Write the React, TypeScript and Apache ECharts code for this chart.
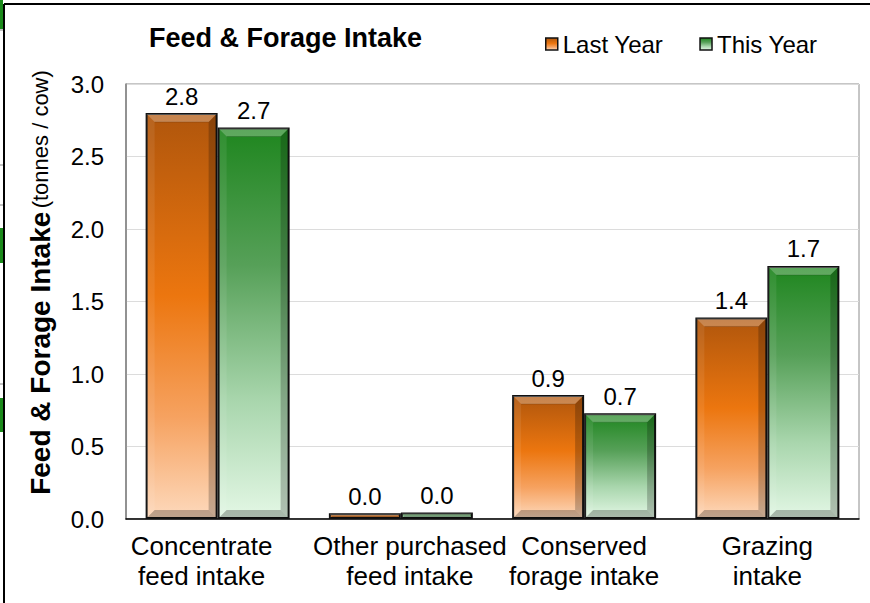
import React, { useEffect, useRef } from "react";
import * as echarts from "echarts";

const categories = ["Concentrate\nfeed intake", "Other purchased\nfeed intake", "Conserved\nforage intake", "Grazing\nintake"];
const lastYear = [2.8, 0.04, 0.855, 1.39];
const thisYear = [2.7, 0.045, 0.73, 1.745];
const yTicks = [0, 0.5, 1.0, 1.5, 2.0, 2.5, 3.0];

const FONT = "'Liberation Sans', Arial, sans-serif";
const BAR_W = 72;

const orangeGrad = () =>
  new echarts.graphic.LinearGradient(0, 0, 0, 1, [
    { offset: 0, color: "#b0560c" },
    { offset: 0.45, color: "#ec760f" },
    { offset: 0.75, color: "#f6a260" },
    { offset: 1, color: "#fdd9bc" },
  ]);
const greenGrad = () =>
  new echarts.graphic.LinearGradient(0, 0, 0, 1, [
    { offset: 0, color: "#1f861f" },
    { offset: 0.35, color: "#56a058" },
    { offset: 0.7, color: "#a9d6ad" },
    { offset: 1, color: "#e3f7e5" },
  ]);

const bevel = (offset: number) => (params: any, api: any) => {
  const top = api.coord([api.value(0), api.value(1)]);
  const base = api.coord([api.value(0), 0]);
  const x0 = top[0] + offset - BAR_W / 2 + 1;
  const x1 = top[0] + offset + BAR_W / 2 - 1;
  const y0 = top[1] + 1;
  const y1 = base[1] - 1;
  const h = y1 - y0;
  const b = Math.max(0, Math.min(8, h / 2));
  return {
    type: "group",
    children: [
      {
        type: "polygon",
        shape: { points: [[x0, y0], [x1, y0], [x1 - b, y0 + b], [x0 + b, y0 + b]] },
        style: { fill: "rgba(255,255,255,0.28)" },
      },
      {
        type: "line",
        shape: { x1: x0 + b, y1: y0 + b, x2: x1 - b, y2: y0 + b },
        style: { stroke: "rgba(0,0,0,0.15)", lineWidth: 1 },
      },
      {
        type: "polygon",
        shape: { points: [[x1, y0], [x1, y1], [x1 - b, y1 - b], [x1 - b, y0 + b]] },
        style: { fill: "rgba(0,0,0,0.22)" },
      },
      {
        type: "polygon",
        shape: { points: [[x0, y1], [x1, y1], [x1 - b, y1 - b], [x0 + b, y1 - b]] },
        style: { fill: "rgba(0,0,0,0.25)" },
      },
      {
        type: "polygon",
        shape: { points: [[x0, y0], [x0, y1], [x0 + b, y1 - b], [x0 + b, y0 + b]] },
        style: { fill: "rgba(255,255,255,0.08)" },
      },
    ],
  };
};

export default function App() {
  const ref = useRef<HTMLDivElement>(null);
  useEffect(() => {
    if (!ref.current) return;
    const chart = echarts.init(ref.current, undefined, { renderer: "svg" });
    const labelFmt = (p: any) => Number(p.value).toFixed(1);
    const valueLabel = {
      show: true,
      position: "top",
      distance: 5,
      fontFamily: FONT,
      fontSize: 24,
      color: "#000",
      formatter: labelFmt,
    };
    chart.setOption({
      animation: false,
      textStyle: { fontFamily: FONT },
      title: {
        text: "Feed & Forage Intake",
        left: 144,
        top: 19,
        textStyle: { fontFamily: FONT, fontSize: 27, fontWeight: "bold", color: "#000" },
      },
      legend: {
        left: 540,
        top: 27,
        itemWidth: 12,
        itemHeight: 12,
        itemGap: 36,
        icon: "rect",
        textStyle: { fontFamily: FONT, fontSize: 24, color: "#000" },
        data: [
          { name: "Last Year", itemStyle: { color: orangeGrad(), borderColor: "#111", borderWidth: 1.5 } },
          { name: "This Year", itemStyle: { color: greenGrad(), borderColor: "#111", borderWidth: 1.5 } },
        ],
      },
      grid: {
        left: 126,
        right: 11,
        top: 84,
        bottom: 84,
        show: true,
        borderColor: "#8c8c8c",
        borderWidth: 1,
        backgroundColor: "#fff",
      },
      xAxis: {
        type: "category",
        data: [
          { value: categories[0], textStyle: { padding: [0, 32, 0, 0] } },
          { value: categories[1], textStyle: { padding: [0, 0, 0, 18] } },
          { value: categories[2] },
          { value: categories[3] },
        ],
        axisLine: { show: true, lineStyle: { color: "#000", width: 1.5 } },
        axisTick: { show: false },
        axisLabel: {
          fontFamily: FONT,
          fontSize: 26,
          color: "#000",
          margin: 12,
          lineHeight: 30,
          interval: 0,
        },
      },
      yAxis: {
        type: "value",
        min: 0,
        max: 3,
        interval: 0.5,
        name: "{b|Feed & Forage Intake} {n|(tonnes / cow)}",
        nameLocation: "middle",
        nameGap: 72,
        nameTextStyle: {
          padding: [0, 0, 0, 38],
          rich: {
            b: { fontFamily: FONT, fontSize: 28, fontWeight: "bold", color: "#000" },
            n: { fontFamily: FONT, fontSize: 22, color: "#000" },
          },
        },
        axisLine: { show: true, lineStyle: { color: "#808080", width: 1.5 } },
        axisTick: { show: false },
        splitLine: { show: true, lineStyle: { color: "#dcdcdc", width: 1 } },
        axisLabel: {
          fontFamily: FONT,
          fontSize: 24,
          color: "#000",
          margin: 22,
          formatter: (v: number) => (yTicks.includes(v) ? v.toFixed(1) : ""),
        },
      },
      series: [
        {
          name: "Last Year",
          type: "bar",
          data: lastYear,
          barWidth: BAR_W,
          barGap: "0%",
          itemStyle: { color: orangeGrad(), borderColor: "#111", borderWidth: 2 },
          label: valueLabel,
        },
        {
          name: "This Year",
          type: "bar",
          data: thisYear,
          barWidth: BAR_W,
          barGap: "0%",
          itemStyle: { color: greenGrad(), borderColor: "#111", borderWidth: 2 },
          label: valueLabel,
        },
        {
          name: "bevelLast",
          type: "custom",
          data: lastYear.map((v, i) => [i, v]),
          renderItem: bevel(-BAR_W / 2),
          z: 5,
          silent: true,
        },
        {
          name: "bevelThis",
          type: "custom",
          data: thisYear.map((v, i) => [i, v]),
          renderItem: bevel(BAR_W / 2),
          z: 5,
          silent: true,
        },
      ],
      graphic: [
        { type: "rect", shape: { x: 0, y: 0, width: 3, height: 29 }, style: { fill: "#1b8a1b" } },
        { type: "rect", shape: { x: 0, y: 228, width: 3, height: 35 }, style: { fill: "#1b8a1b" } },
        { type: "rect", shape: { x: 0, y: 398, width: 3, height: 34 }, style: { fill: "#1b8a1b" } },
        { type: "line", shape: { x1: 0, y1: 30, x2: 4, y2: 30 }, style: { stroke: "#888", lineWidth: 1 } },
        { type: "line", shape: { x1: 0, y1: 165, x2: 4, y2: 165 }, style: { stroke: "#888", lineWidth: 1 } },
        { type: "line", shape: { x1: 0, y1: 205, x2: 4, y2: 205 }, style: { stroke: "#888", lineWidth: 1 } },
        { type: "line", shape: { x1: 0, y1: 384, x2: 4, y2: 384 }, style: { stroke: "#888", lineWidth: 1 } },
        { type: "line", shape: { x1: 4, y1: 4, x2: 870, y2: 4 }, style: { stroke: "#000", lineWidth: 2 } },
        { type: "line", shape: { x1: 4, y1: 4, x2: 4, y2: 603 }, style: { stroke: "#000", lineWidth: 2 } },
      ],
    });
    return () => chart.dispose();
  }, []);
  return (
    <div
      ref={ref}
      style={{ width: 870, height: 603, position: "absolute", left: 0, top: 0, background: "#fff" }}
    />
  );
}
